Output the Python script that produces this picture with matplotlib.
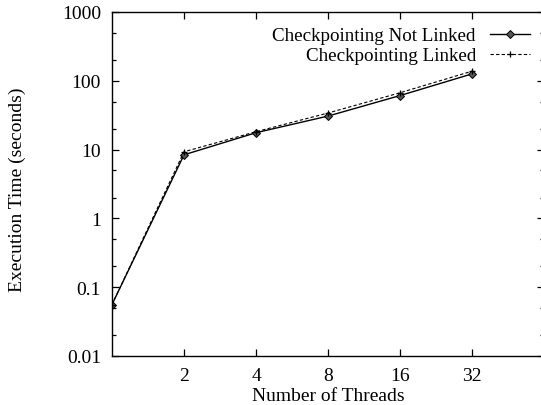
import matplotlib
matplotlib.use("Agg")
import matplotlib.pyplot as plt
from matplotlib.ticker import FixedLocator, NullFormatter, NullLocator

plt.rcParams['font.family'] = ['Liberation Serif', 'DejaVu Serif']

threads = [1, 2, 4, 8, 16, 32]
not_linked = [0.056, 8.4, 17.6, 30.7, 61, 126]
linked = [0.056, 9.3, 18.2, 34, 67, 138]

x_ticks = [2, 4, 8, 16, 32]
y_ticks = [0.01, 0.1, 1, 10, 100, 1000]
y_labels = ["0.01", "0.1", "1", "10", "100", "1000"]
y_minor = [0.02, 0.05, 0.2, 0.5, 2, 5, 20, 50, 200, 500]

fig = plt.figure(figsize=(5.41, 4.06), dpi=100)
# plot box runs a little past the right edge of the canvas
ax = fig.add_axes([112 / 541, 1 - 357 / 406, 432 / 541, 344 / 406])

ax.plot(threads, not_linked, color="black", linewidth=1.0, marker="D",
        markersize=3.6, markerfacecolor="#555555", markeredgecolor="black",
        markeredgewidth=0.7, label="Checkpointing Not Linked")
ax.plot(threads, linked, color="black", linewidth=0.8, linestyle=(0, (3, 2)),
        marker="+", markersize=5, markeredgewidth=0.9,
        label="Checkpointing Linked")

ax.set_xscale("log", base=2)
ax.set_yscale("log")
ax.set_xlim(1, 64)
ax.set_ylim(0.01, 1000)

ax.xaxis.set_major_locator(FixedLocator(x_ticks))
ax.xaxis.set_minor_locator(NullLocator())
ax.set_xticklabels([str(t) for t in x_ticks])
ax.yaxis.set_major_locator(FixedLocator(y_ticks))
ax.set_yticklabels(y_labels)
ax.yaxis.set_minor_locator(FixedLocator(y_minor))
ax.yaxis.set_minor_formatter(NullFormatter())

ax.tick_params(which="both", direction="in", top=True, right=True,
               labelsize=14, width=0.9)
ax.tick_params(which="major", length=5)
ax.tick_params(which="minor", length=3)
ax.tick_params(axis="x", pad=8)
ax.tick_params(axis="y", pad=8)
for s in ax.spines.values():
    s.set_linewidth(1.0)

ax.set_xlabel("Number of Threads", fontsize=14, labelpad=2)
ax.set_ylabel("Execution Time (seconds)", fontsize=14)
ax.yaxis.set_label_coords(-0.198, 0.485)

ax.legend(loc="upper right", bbox_to_anchor=(530 / 541, 1 - 28 / 406),
          bbox_transform=fig.transFigure, frameon=False, markerfirst=False,
          fontsize=13.7, handlelength=2.1, handletextpad=0.75, labelspacing=0.15,
          borderpad=0, borderaxespad=0)

fig.savefig("out.png", dpi=100)
